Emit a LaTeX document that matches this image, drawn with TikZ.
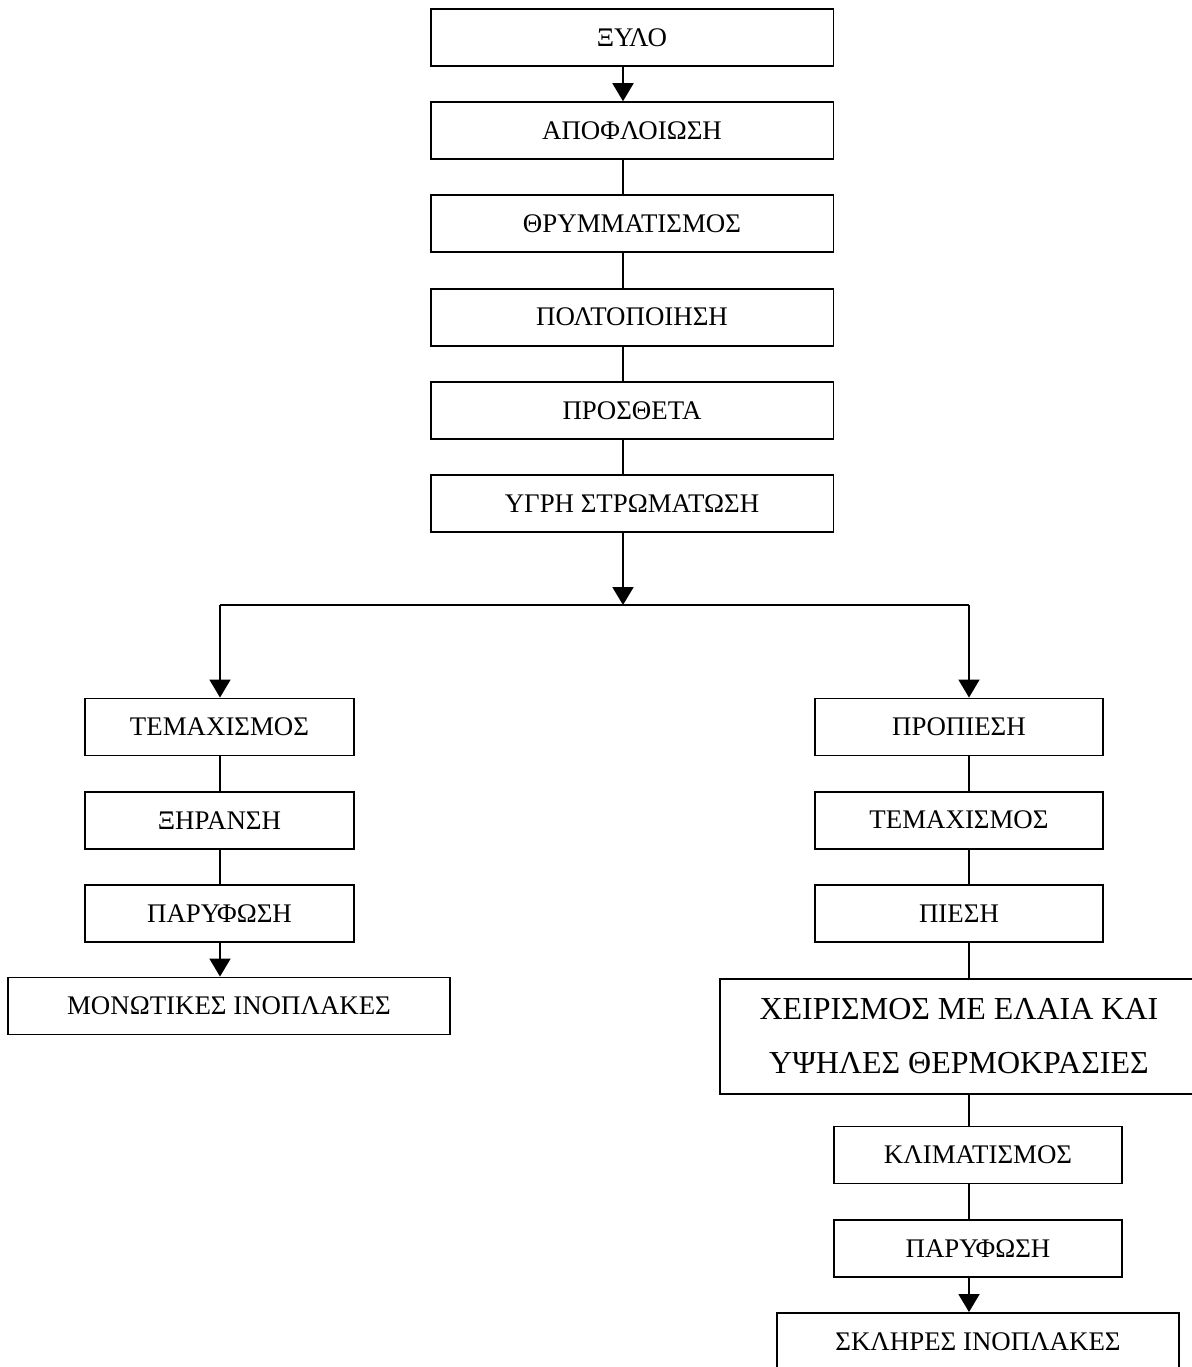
\documentclass[tikz,border=0pt]{standalone}
\usepackage{fontspec}
\setmainfont{Liberation Serif}
\usetikzlibrary{arrows.meta}
\tikzstyle{stage} = [rectangle, minimum width=8.06cm, minimum height=1.14cm, text centered, draw=black, line width=1.1pt, font=\fontsize{15.3}{18}\selectfont]
\tikzstyle{leftstage} = [stage, minimum width=5.38cm]
\tikzstyle{rightstage} = [stage, minimum width=5.76cm]
\tikzstyle{link} = [line width=1.1pt]
\tikzstyle{arrow} = [line width=1.1pt,-{Triangle[width=0.42cm,length=0.36cm]}]
\begin{document}
\begin{tikzpicture}[x=0.02cm,y=-0.02cm,node distance=1.864cm]
\useasboundingbox (0,0) rectangle (1192,1367);
\clip (0,0) rectangle (1192,1367);

\node (wood) [stage] at (632,37.5) {ΞΥΛΟ};
\node (peel) [stage, below of=wood] {ΑΠΟΦΛΟΙΩΣΗ};
\node (chip) [stage, below of=peel] {ΘΡΥΜΜΑΤΙΣΜΟΣ};
\node (pulp) [stage, below of=chip] {ΠΟΛΤΟΠΟΙΗΣΗ};
\node (addit) [stage, below of=pulp] {ΠΡΟΣΘΕΤΑ};
\node (wetform) [stage, below of=addit] {ΥΓΡΗ ΣΤΡΩΜΑΤΩΣΗ};

\coordinate (split) at (623,605);
\coordinate (lsplit) at (220,605);
\coordinate (rsplit) at (969,605);

\node (lcut) [leftstage] at (219.5,727) {ΤΕΜΑΧΙΣΜΟΣ};
\node (dry) [leftstage, below of=lcut] {ΞΗΡΑΝΣΗ};
\node (lsand) [leftstage, below of=dry] {ΠΑΡΥΦΩΣΗ};
\node (soft) [stage, minimum width=8.84cm] at (229,1006) {ΜΟΝΩΤΙΚΕΣ ΙΝΟΠΛΑΚΕΣ};

\node (prepress) [rightstage] at (959,727) {ΠΡΟΠΙΕΣΗ};
\node (rcut) [rightstage, below of=prepress] {ΤΕΜΑΧΙΣΜΟΣ};
\node (press) [rightstage, below of=rcut] {ΠΙΕΣΗ};
\node (heat) [stage, anchor=north west, minimum width=9.8cm, minimum height=2.3cm, inner ysep=0pt, font=\fontsize{18.2}{30.7}\selectfont] at (719,978) {\hspace*{-0.24cm}\parbox{8.6cm}{\centering ΧΕΙΡΙΣΜΟΣ ΜΕ ΕΛΑΙΑ ΚΑΙ\\ ΥΨΗΛΕΣ ΘΕΡΜΟΚΡΑΣΙΕΣ}};
\node (cond) [rightstage] at (978,1155) {ΚΛΙΜΑΤΙΣΜΟΣ};
\node (rsand) [rightstage, below of=cond] {ΠΑΡΥΦΩΣΗ};
\node (hard) [stage, minimum width=8.04cm] at (978,1341.5) {ΣΚΛΗΡΕΣ ΙΝΟΠΛΑΚΕΣ};

\draw [arrow] (wood.south -| split) -- (peel.north -| split);
\foreach \a/\b in {peel/chip, chip/pulp, pulp/addit, addit/wetform}
  \draw [link] (\a.south -| split) -- (\b.north -| split);
\draw [arrow] (wetform.south -| split) -- (split);
\draw [link] (lsplit) -- (rsplit);

\draw [arrow] (lsplit) -- (lcut.north -| lsplit);
\draw [link] (lcut.south -| lsplit) -- (dry.north -| lsplit);
\draw [link] (dry.south -| lsplit) -- (lsand.north -| lsplit);
\draw [arrow] (lsand.south -| lsplit) -- (soft.north -| lsplit);

\draw [arrow] (rsplit) -- (prepress.north -| rsplit);
\foreach \a/\b in {prepress/rcut, rcut/press, press/heat, heat/cond, cond/rsand}
  \draw [link] (\a.south -| rsplit) -- (\b.north -| rsplit);
\draw [arrow] (rsand.south -| rsplit) -- (hard.north -| rsplit);

\end{tikzpicture}
\end{document}
